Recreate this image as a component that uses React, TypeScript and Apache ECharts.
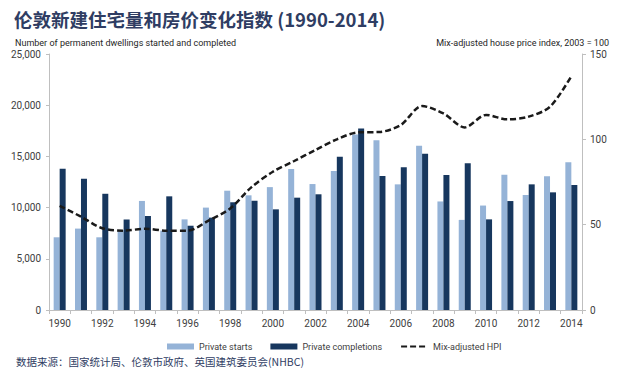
import React, { useEffect, useRef } from "react";
import * as echarts from "echarts";

const years = [
  "1990", "1991", "1992", "1993", "1994", "1995", "1996", "1997", "1998", "1999",
  "2000", "2001", "2002", "2003", "2004", "2005", "2006", "2007", "2008", "2009",
  "2010", "2011", "2012", "2013", "2014",
];
const privateStarts = [
  7100, 7950, 7100, 7800, 10650, 7750, 8850, 10000, 11650, 11200,
  12000, 13770, 12300, 13570, 17150, 16570, 12270, 16050, 10600, 8800,
  10200, 13200, 11230, 13050, 14420,
];
const privateCompletions = [
  13800, 12820, 11350, 8850, 9180, 11100, 8230, 9020, 10520, 10680,
  9830, 10970, 11300, 14970, 17720, 13090, 13930, 15260, 13180, 14320,
  8850, 10640, 12270, 11490, 12210,
];
const hpi = [
  61, 54.7, 47.9, 46.5, 47.6, 46.5, 46.5, 52.5, 59.5, 72,
  81, 87.3, 93.8, 100, 104.1, 104.3, 108.4, 119.5, 115.2, 107,
  114.3, 111.7, 113.3, 119.1, 137,
];

const titleText = "伦敦新建住宅量和房价变化指数 (1990-2014)";
const leftAxisTitle = "Number of permanent dwellings started and completed";
const rightAxisTitle = "Mix-adjusted house price index, 2003 = 100";
const sourceText = "数据来源：国家统计局、伦敦市政府、英国建筑委员会(NHBC)";

const LATIN = "Roboto, 'Noto Sans', sans-serif";
const CJK = "'Noto Sans CJK SC', 'Noto Sans', sans-serif";

export default function App() {
  const ref = useRef<HTMLDivElement>(null);
  useEffect(() => {
    if (!ref.current) return;
    const chart = echarts.init(ref.current, null, { renderer: "svg" });
    chart.setOption({
      animation: false,
      backgroundColor: "#ffffff",
      title: [
        {
          text: titleText,
          left: 9,
          top: 5,
          textStyle: { fontFamily: CJK, fontSize: 18.5, fontWeight: "bold", color: "#2f3d63" },
        },
        {
          text: leftAxisTitle,
          left: 10,
          top: 33,
          textStyle: { fontFamily: LATIN, fontSize: 9, fontWeight: "normal", color: "#262626" },
        },
        {
          text: rightAxisTitle,
          right: 11,
          top: 33,
          textStyle: { fontFamily: LATIN, fontSize: 9, fontWeight: "normal", color: "#262626" },
        },
        {
          text: sourceText,
          left: 11,
          top: 351,
          textStyle: { fontFamily: CJK, fontSize: 10.5, fontWeight: "normal", color: "#2f3d63" },
        },
      ],
      legend: {
        left: 162,
        top: 337,
        itemGap: 18,
        itemWidth: 27,
        itemHeight: 6,
        textStyle: { fontFamily: LATIN, fontSize: 9, color: "#404040" },
        data: [
          { name: "Private starts", icon: "rect" },
          { name: "Private completions", icon: "rect" },
          {
            name: "Mix-adjusted HPI",
            itemStyle: { color: "rgba(0,0,0,0)", opacity: 0, borderWidth: 0 },
          },
        ],
      },
      grid: { left: 49, right: 43, top: 54, bottom: 69 },
      xAxis: {
        type: "category",
        data: years,
        boundaryGap: true,
        axisLine: { lineStyle: { color: "#bfbfbf" } },
        axisTick: { show: true, interval: 0, length: 4, lineStyle: { color: "#bfbfbf" } },
        axisLabel: {
          interval: 1,
          margin: 8,
          fontFamily: LATIN,
          fontSize: 10,
          color: "#404040",
        },
      },
      yAxis: [
        {
          type: "value",
          min: 0,
          max: 25000,
          interval: 5000,
          splitLine: { show: false },
          axisLine: { show: true, lineStyle: { color: "#bfbfbf" } },
          axisTick: { show: true, length: 3, lineStyle: { color: "#bfbfbf" } },
          axisLabel: {
            margin: 8,
            fontFamily: LATIN,
            fontSize: 10,
            color: "#404040",
            formatter: (v: number) => v.toLocaleString("en-US"),
          },
        },
        {
          type: "value",
          min: 0,
          max: 150,
          interval: 50,
          position: "right",
          splitLine: { show: false },
          axisLine: { show: true, lineStyle: { color: "#bfbfbf" } },
          axisTick: { show: true, length: 4, lineStyle: { color: "#bfbfbf" } },
          axisLabel: { margin: 8, fontFamily: LATIN, fontSize: 10, color: "#404040" },
        },
      ],
      series: [
        {
          name: "Private starts",
          type: "bar",
          data: privateStarts,
          barWidth: 6,
          barGap: "0%",
          itemStyle: { color: "#95b3d7" },
        },
        {
          name: "Private completions",
          type: "bar",
          data: privateCompletions,
          barWidth: 6,
          barGap: "0%",
          itemStyle: { color: "#17375e" },
        },
        {
          name: "Mix-adjusted HPI",
          type: "line",
          yAxisIndex: 1,
          data: hpi,
          smooth: 0.3,
          symbol: "none",
          z: 5,
          lineStyle: { color: "#1a1a1a", width: 2.5, type: [6, 3] },
          itemStyle: { color: "#1a1a1a" },
        },
      ],
    });
    return () => chart.dispose();
  }, []);
  return (
    <div
      ref={ref}
      style={{ position: "fixed", left: 0, top: 0, width: 625, height: 379 }}
    />
  );
}
